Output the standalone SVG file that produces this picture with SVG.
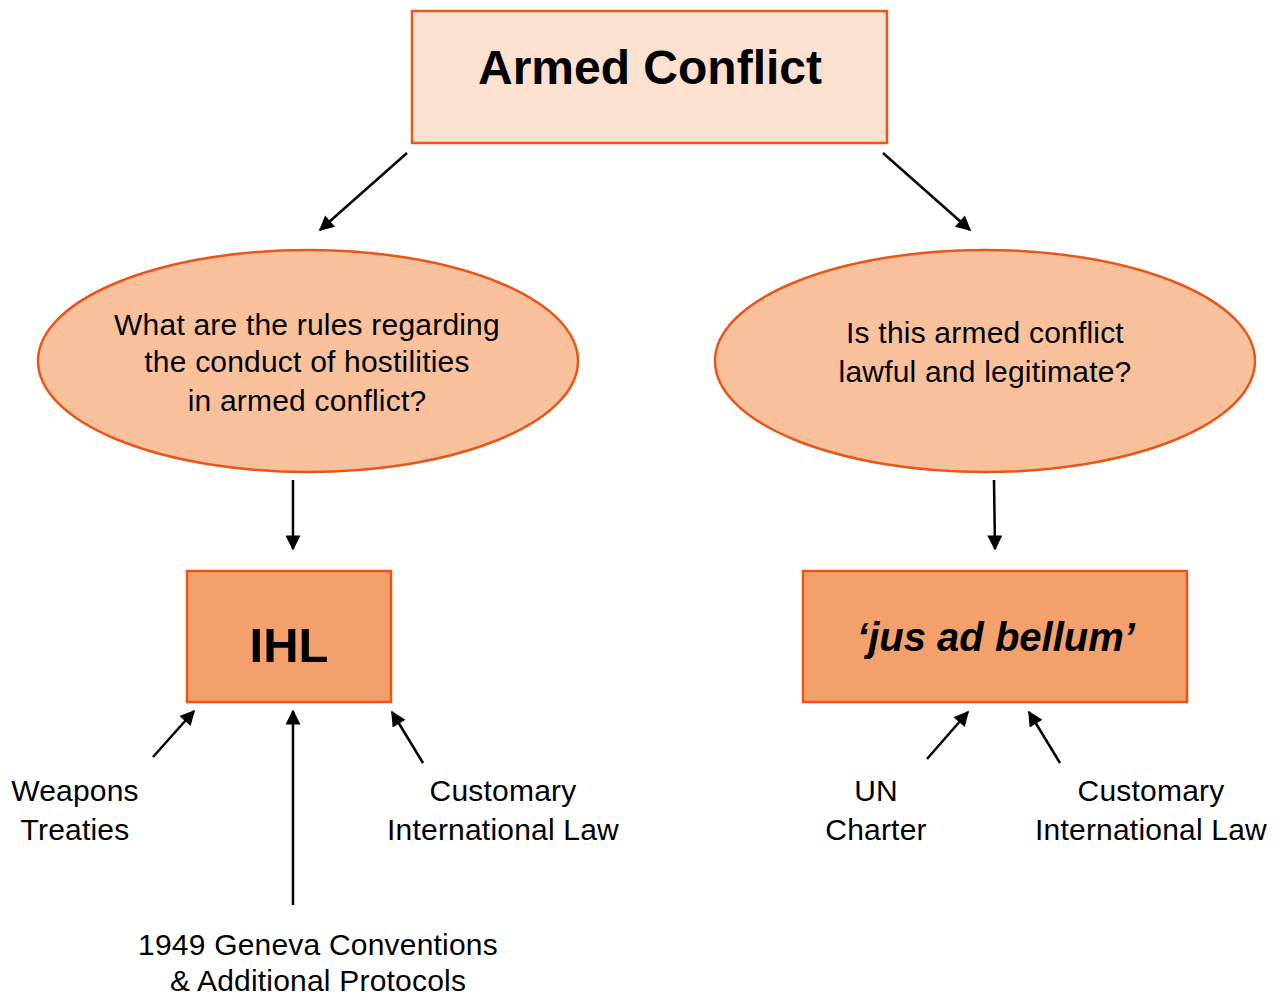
<svg xmlns="http://www.w3.org/2000/svg" width="1279" height="997" viewBox="0 0 1279 997">
<defs>
<marker id="ah" viewBox="0 0 10 10" refX="9" refY="5" markerWidth="7" markerHeight="6" markerUnits="strokeWidth" orient="auto">
<path d="M0,0 L10,5 L0,10 z" fill="#000"/>
</marker>
<style>
.box{stroke:#e8571a;stroke-width:2.5}
.t{font-family:"Liberation Sans",Arial,sans-serif;fill:#000;text-anchor:middle}
.q{font-size:30px;font-weight:300;letter-spacing:0.2px}
.lab{font-size:30px;font-weight:300;letter-spacing:0.2px}
.c{stroke:#000;stroke-width:2.5;fill:none;marker-end:url(#ah)}
</style>
</defs>
<rect width="1279" height="997" fill="#fff"/>
<g id="armed-conflict">
<rect class="box" x="412" y="11" width="475" height="132" fill="#fce0d0"/>
<text class="t" x="650" y="84" font-size="48" font-weight="bold">Armed Conflict</text>
</g>
<g id="q-left">
<ellipse class="box" cx="308" cy="361" rx="270" ry="111" fill="#f9c09c"/>
<text class="t q" x="307" y="335">What are the rules regarding</text>
<text class="t q" x="307" y="372">the conduct of hostilities</text>
<text class="t q" x="307" y="411">in armed conflict?</text>
</g>
<g id="q-right">
<ellipse class="box" cx="985" cy="361" rx="270" ry="111" fill="#f9c09c"/>
<text class="t q" x="985" y="343">Is this armed conflict</text>
<text class="t q" x="985" y="382">lawful and legitimate?</text>
</g>
<g id="ihl">
<rect class="box" x="187" y="571" width="204" height="131" fill="#f4a06c"/>
<text class="t" x="289" y="662" font-size="49" font-weight="bold">IHL</text>
</g>
<g id="jus-ad-bellum">
<rect class="box" x="803" y="571" width="384" height="131" fill="#f4a06c"/>
<text class="t" x="996" y="651" font-size="40" font-weight="bold" font-style="italic">‘jus ad bellum’</text>
</g>
<g id="weapons">
<text class="t lab" x="75" y="801">Weapons</text>
<text class="t lab" x="75" y="840">Treaties</text>
</g>
<g id="geneva">
<text class="t lab" x="318" y="955">1949 Geneva Conventions</text>
<text class="t lab" x="318" y="991">&amp; Additional Protocols</text>
</g>
<g id="customary-left">
<text class="t lab" x="503" y="801">Customary</text>
<text class="t lab" x="503" y="840">International Law</text>
</g>
<g id="un-charter">
<text class="t lab" x="876" y="801">UN</text>
<text class="t lab" x="876" y="840">Charter</text>
</g>
<g id="customary-right">
<text class="t lab" x="1151" y="801">Customary</text>
<text class="t lab" x="1151" y="840">International Law</text>
</g>
<g id="connectors">
<line class="c" x1="407" y1="153" x2="320" y2="230"/>
<line class="c" x1="883" y1="153" x2="970" y2="230"/>
<line class="c" x1="293" y1="480" x2="293" y2="549"/>
<line class="c" x1="994" y1="480" x2="995" y2="549"/>
<line class="c" x1="153" y1="757" x2="194" y2="711"/>
<line class="c" x1="293" y1="905" x2="293" y2="711"/>
<line class="c" x1="423" y1="763" x2="392" y2="712"/>
<line class="c" x1="927" y1="759" x2="968" y2="712"/>
<line class="c" x1="1060" y1="763" x2="1029" y2="712"/>
</g>
</svg>
